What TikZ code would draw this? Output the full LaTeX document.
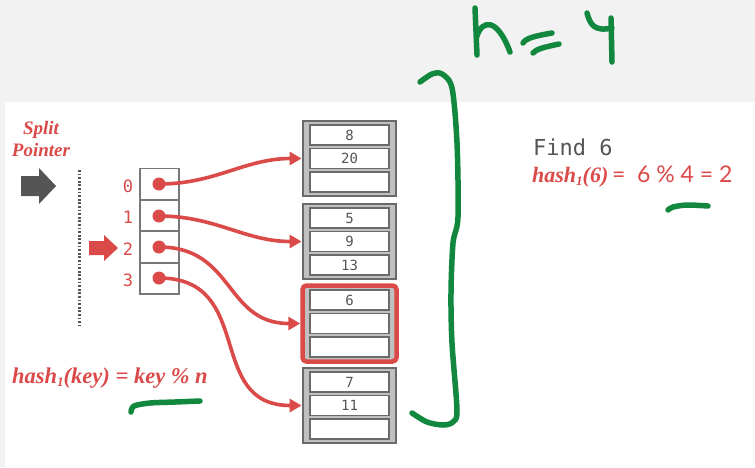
\documentclass[tikz,border=0pt]{standalone}
\usepackage{fontspec}
\setmainfont{Liberation Serif}
\newfontfamily\monof{DejaVu Sans Mono}
\newfontfamily\sansf{Lato}
\usetikzlibrary{arrows.meta}
\definecolor{dbred}{HTML}{DA4A48}
\definecolor{dgray}{HTML}{777777}
\definecolor{bgray}{HTML}{6A6A6A}
\definecolor{bfill}{HTML}{C0C0C0}
\definecolor{slottext}{HTML}{555555}
\definecolor{hgreen}{HTML}{12873E}
\definecolor{bggray}{HTML}{F2F2F2}
\definecolor{arrgray}{HTML}{555555}
\newcommand{\hsub}[1]{\raisebox{-0.3ex}{\fontsize{13}{13}\selectfont #1}}
\begin{document}
\begin{tikzpicture}[x=1pt,y=-1pt,
  dircell/.style={draw=dgray,line width=1.8pt,minimum width=39pt,minimum height=31pt,inner sep=0pt},
  dotn/.style={circle,fill=dbred,minimum size=13pt,inner sep=0pt},
  bucketbox/.style={draw=bgray,fill=bfill,line width=2.8pt,minimum width=93pt,minimum height=75pt,inner sep=0pt},
  redbucket/.style={draw=dbred,fill=bfill,line width=4.5pt,rounded corners=4pt,minimum width=94pt,minimum height=76pt,inner sep=0pt},
  slot/.style={draw=bgray,fill=white,line width=1.7pt,minimum width=79pt,minimum height=20pt,inner sep=0pt,font=\monof\fontsize{14}{14}\selectfont,text=slottext},
  conn/.style={draw=dbred,line width=3.6pt,-{Triangle[length=12pt,width=13pt]}},
  hand/.style={draw=hgreen,line width=5.5pt,line cap=round,line join=round},
  idx/.style={font=\monof\fontsize{17}{17}\selectfont,text=dbred,inner sep=0pt},
  redtxt/.style={text=dbred,inner sep=0pt,font=\bfseries\itshape},
]
\useasboundingbox (0,0) rectangle (755,467);
\fill[bggray] (0,0) rectangle (755,467);
\fill[white] (5,102) rectangle (755,467);

% split pointer label
\node[redtxt,align=center,font=\bfseries\itshape\fontsize{19}{22}\selectfont] (splitlbl) at (41,139) {Split\\Pointer};
% gray block arrow
\fill[arrgray] (21,176) -- (39,176) -- (39,168) -- (56,186) -- (39,204) -- (39,196) -- (21,196) -- cycle;
% dotted line
\draw[arrgray,line width=3pt,dash pattern=on 1.8pt off 1.8pt] (79,170) -- (79,325);
% red block arrow
\fill[dbred] (89,241) -- (104,241) -- (104,235) -- (118,248) -- (104,261) -- (104,255) -- (89,255) -- cycle;

% directory
\node[dircell] (d0) at (159.5,184) {};
\node[dircell] (d1) at (159.5,215.5) {};
\node[dircell] (d2) at (159.5,247) {};
\node[dircell] (d3) at (159.5,278.5) {};
\node[idx] (i0) at (128,186) {0};
\node[idx] (i1) at (128,217) {1};
\node[idx] (i2) at (128,249) {2};
\node[idx] (i3) at (128,280) {3};
\node[dotn] (p0) at (159,184) {};
\node[dotn] (p1) at (159,216) {};
\node[dotn] (p2) at (159,247) {};
\node[dotn] (p3) at (159,278) {};

% buckets
\node[bucketbox] (b1) at (349.5,158.5) {};
\node[slot] (s11) at (349.5,135) {8};
\node[slot] (s12) at (349.5,158.5) {20};
\node[slot] (s13) at (349.5,182) {};
\node[bucketbox] (b2) at (349.5,241.5) {};
\node[slot] (s21) at (349.5,218) {5};
\node[slot] (s22) at (349.5,241.5) {9};
\node[slot] (s23) at (349.5,265) {13};
\node[redbucket] (b3) at (349.5,323.5) {};
\node[slot] (s31) at (349.5,300) {6};
\node[slot] (s32) at (349.5,323.5) {};
\node[slot] (s33) at (349.5,347) {};
\node[bucketbox] (b4) at (349.5,405.5) {};
\node[slot] (s41) at (349.5,382) {7};
\node[slot] (s42) at (349.5,405.5) {11};
\node[slot] (s43) at (349.5,429) {};

% connectors
\draw[conn] (p0.center) to[out=0,in=180] (b1.west);
\draw[conn] (p1.center) to[out=0,in=180] (b2.west);
\draw[conn] (p2.center) to[out=0,in=180,looseness=1.2] (b3.west);
\draw[conn] (p3.center) to[out=0,in=180,looseness=1.3] (b4.west);

% formulas
\node[redtxt,anchor=base west,font=\bfseries\itshape\fontsize{22.5}{24}\selectfont] (hashkey) at (12,383) {hash\hsub{1}(key) = key \% n};
\node[anchor=base west,inner sep=0pt,text=arrgray,font=\monof\fontsize{22}{24}\selectfont] (find) at (533,155) {Find 6};
\node[redtxt,anchor=base west,font=\bfseries\itshape\fontsize{22}{24}\selectfont] (hashsix) at (532,182) {hash\hsub{1}(6)};
\node[anchor=base west,inner sep=0pt,text=dbred,font=\sansf\fontsize{23}{24}\selectfont] (eqsix) at (612,182) {=\hspace{0.5em}6 \% 4 = 2};

% green handwriting
\draw[hand] (475,8) -- (477,55);
\draw[hand] (477,36) .. controls (482,20) and (497,17) .. (510,52);
\draw[hand] (523,43) .. controls (526,38) and (535,36) .. (552,33);
\draw[hand] (533,53) .. controls (536,49) and (545,47) .. (559,44);
\draw[hand] (587,13) .. controls (590,24) and (594,32) .. (612,28);
\draw[hand] (611,18) -- (612,62);
\draw[hand] plot[smooth] coordinates {(420,82) (432,74) (442,74) (452,88) (457,143) (458,217) (453,243) (451,293) (452,343) (457,410) (453,422) (443,425) (427,422) (412,413)};
\draw[hand] plot[smooth] coordinates {(131,412) (134,406) (150,403) (175,402) (200,401)};
\draw[hand] plot[smooth] coordinates {(668,210) (673,207) (687,205) (708,206)};
\end{tikzpicture}
\end{document}
